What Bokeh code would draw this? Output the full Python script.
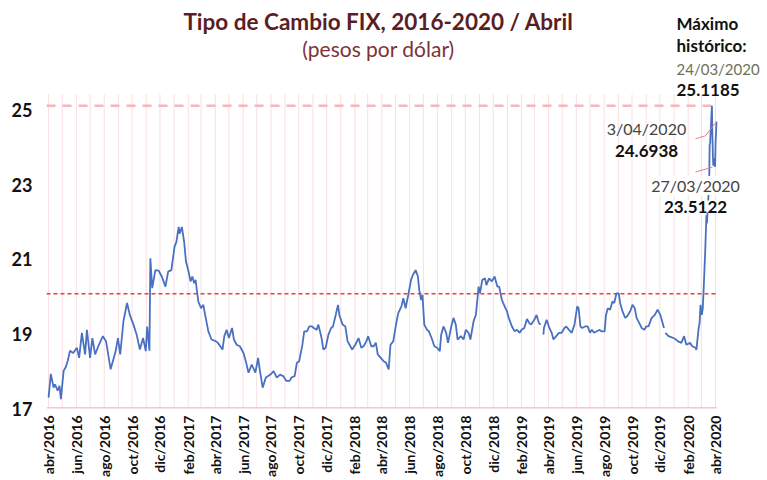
import math
import numpy as np
import pandas as pd
from bokeh.plotting import figure
from bokeh.models import Label, FixedTicker, ColumnDataSource
from bokeh.embed import file_html
from bokeh.resources import INLINE

NaN = float("nan")

# ---- data (FIX, pesos por dólar) ----
dates = [
    "2016-04-01", "2016-04-06", "2016-04-12", "2016-04-15", "2016-04-21", "2016-04-25", "2016-04-28",
    "2016-05-04", "2016-05-09", "2016-05-13", "2016-05-18", "2016-05-25",
    "2016-06-02", "2016-06-07", "2016-06-13", "2016-06-20", "2016-06-24",
    "2016-07-01", "2016-07-06", "2016-07-12", "2016-07-19", "2016-07-29",
    "2016-08-05", "2016-08-15", "2016-08-22", "2016-08-26", "2016-08-31",
    "2016-09-05", "2016-09-12", "2016-09-20", "2016-09-26",
    "2016-10-04", "2016-10-11", "2016-10-18", "2016-10-25", "2016-10-31",
    "2016-11-03", "2016-11-08", "2016-11-10", "2016-11-14", "2016-11-21", "2016-11-28",
    "2016-12-05", "2016-12-09", "2016-12-13", "2016-12-19", "2016-12-26",
    "2017-01-02", "2017-01-06", "2017-01-11", "2017-01-13", "2017-01-18", "2017-01-23", "2017-01-27",
    "2017-02-01", "2017-02-06", "2017-02-10", "2017-02-14", "2017-02-17", "2017-02-23",
    "2017-03-01", "2017-03-06", "2017-03-10", "2017-03-17", "2017-03-24",
    "2017-04-03", "2017-04-07", "2017-04-17", "2017-04-21", "2017-04-26",
    "2017-05-01", "2017-05-08", "2017-05-12", "2017-05-18", "2017-05-25",
    "2017-06-02", "2017-06-07", "2017-06-13", "2017-06-20", "2017-06-28",
    "2017-07-04", "2017-07-07", "2017-07-14", "2017-07-21", "2017-07-31",
    "2017-08-07", "2017-08-14", "2017-08-21", "2017-08-28",
    "2017-09-04", "2017-09-11", "2017-09-15", "2017-09-22", "2017-09-27",
    "2017-10-02", "2017-10-09", "2017-10-13", "2017-10-19", "2017-10-24", "2017-10-30",
    "2017-11-03", "2017-11-09", "2017-11-13", "2017-11-20", "2017-11-24", "2017-11-29",
    "2017-12-05", "2017-12-11", "2017-12-15", "2017-12-21", "2017-12-26", "2017-12-29",
    "2018-01-05", "2018-01-11", "2018-01-16", "2018-01-22", "2018-01-26",
    "2018-02-02", "2018-02-09", "2018-02-15", "2018-02-20", "2018-02-26",
    "2018-03-02", "2018-03-09", "2018-03-14", "2018-03-19", "2018-03-23",
    "2018-04-02", "2018-04-05", "2018-04-10", "2018-04-16", "2018-04-20", "2018-04-26",
    "2018-05-02", "2018-05-07", "2018-05-14", "2018-05-18", "2018-05-23", "2018-05-29",
    "2018-06-04", "2018-06-08", "2018-06-14", "2018-06-19", "2018-06-22", "2018-06-26", "2018-06-29",
    "2018-07-03", "2018-07-09", "2018-07-13", "2018-07-19", "2018-07-25", "2018-07-31",
    "2018-08-06", "2018-08-09", "2018-08-14", "2018-08-20", "2018-08-24", "2018-08-31",
    "2018-09-05", "2018-09-10", "2018-09-14", "2018-09-21", "2018-09-27",
    "2018-10-02", "2018-10-08", "2018-10-12", "2018-10-19", "2018-10-24", "2018-10-30",
    "2018-11-02", "2018-11-07", "2018-11-13", "2018-11-16", "2018-11-22", "2018-11-28",
    "2018-12-04", "2018-12-10", "2018-12-14", "2018-12-20", "2018-12-26", "2018-12-31",
    "2019-01-04", "2019-01-11", "2019-01-17", "2019-01-22", "2019-01-28",
    "2019-02-01", "2019-02-07", "2019-02-13", "2019-02-18", "2019-02-22",
    "2019-03-01", "2019-03-06", "2019-03-11", "2019-03-15", "2019-03-18", "2019-03-21", "2019-03-22", "2019-03-28",
    "2019-04-03", "2019-04-08", "2019-04-12", "2019-04-18", "2019-04-24", "2019-04-30",
    "2019-05-06", "2019-05-10", "2019-05-16", "2019-05-22", "2019-05-28",
    "2019-06-03", "2019-06-06", "2019-06-10", "2019-06-14", "2019-06-20", "2019-06-26",
    "2019-07-01", "2019-07-05", "2019-07-10", "2019-07-16", "2019-07-22", "2019-07-26",
    "2019-08-02", "2019-08-05", "2019-08-09", "2019-08-14", "2019-08-19", "2019-08-23", "2019-08-28",
    "2019-09-02", "2019-09-05", "2019-09-10", "2019-09-16", "2019-09-20", "2019-09-27",
    "2019-10-02", "2019-10-07", "2019-10-11", "2019-10-17", "2019-10-22", "2019-10-28",
    "2019-11-01", "2019-11-06", "2019-11-13", "2019-11-20", "2019-11-26",
    "2019-12-02", "2019-12-06", "2019-12-10", "2019-12-12", "2019-12-13", "2019-12-20", "2019-12-27",
    "2020-01-03", "2020-01-10", "2020-01-17", "2020-01-23", "2020-01-28",
    "2020-02-05", "2020-02-10", "2020-02-17", "2020-02-19", "2020-02-24", "2020-02-26", "2020-02-28",
    "2020-03-02", "2020-03-04", "2020-03-06", "2020-03-09", "2020-03-12", "2020-03-13",
    "2020-03-18", "2020-03-19", "2020-03-20", "2020-03-23", "2020-03-24", "2020-03-25",
    "2020-03-26", "2020-03-27", "2020-03-30", "2020-03-31",
    "2020-04-01", "2020-04-02", "2020-04-03",
]
values = [
    17.29, 17.93, 17.56, 17.65, 17.48, 17.61, 17.25,
    18.01, 18.12, 18.28, 18.55, 18.49,
    18.63, 18.36, 19.03, 18.45, 19.11,
    18.36, 18.89, 18.45, 18.67, 18.94,
    18.80, 18.05, 18.36, 18.54, 18.89,
    18.45, 19.34, 19.83, 19.51,
    19.25, 18.98, 18.58, 18.89, 18.54,
    19.20, 18.55, 21.03, 20.23, 20.71, 20.70,
    20.54, 20.41, 20.27, 20.67, 20.71,
    21.34, 21.47, 21.87, 21.69, 21.87, 21.47, 20.94,
    20.71, 20.41, 20.54, 20.36, 20.45, 19.87,
    19.69, 19.78, 19.51, 19.07, 18.85,
    18.80, 18.76, 18.58, 18.94, 19.11,
    18.89, 19.16, 18.85, 18.71, 18.67,
    18.49, 18.27, 17.96, 18.18, 17.96,
    18.36, 18.09, 17.56, 17.83, 17.91,
    18.00, 17.83, 17.91, 17.87,
    17.74, 17.74, 17.83, 17.87, 18.23,
    18.27, 18.71, 19.07, 19.07, 19.20, 19.20,
    19.16, 19.11, 19.25, 18.89, 18.58, 18.63,
    18.98, 19.16, 19.20, 19.51, 19.78, 19.51,
    19.25, 19.20, 18.80, 18.67, 18.58,
    18.71, 18.89, 18.63, 18.67, 18.80,
    18.94, 18.67, 18.67, 18.76, 18.45,
    18.31, 18.27, 18.23, 18.05, 18.71, 18.80,
    19.25, 19.56, 19.74, 19.96, 19.69, 20.05,
    20.45, 20.58, 20.71, 20.54, 20.18, 19.91, 20.05,
    19.25, 19.11, 19.07, 18.89, 18.67, 18.63,
    18.54, 18.98, 19.20, 19.03, 18.76, 19.20,
    19.43, 19.25, 18.85, 18.94, 18.85,
    19.11, 19.03, 18.85, 19.34, 19.51, 20.27,
    20.09, 20.45, 20.49, 20.31, 20.49, 20.41,
    20.54, 20.27, 20.27, 19.91, 19.74, 19.61,
    19.43, 19.20, 19.07, 19.11, 19.03,
    19.11, 19.16, 19.40, 19.29, 19.25,
    19.38, 19.51, 19.29, 19.25, NaN, 18.98, 19.16, 19.38,
    19.16, 19.03, 18.85, 18.94, 19.03, 19.03,
    19.16, 19.20, 19.11, 19.03, 19.25,
    19.74, 19.69, 19.20, 19.16, 19.20, 19.20,
    19.03, 19.11, 19.03, 19.07, 19.11, 19.07,
    19.07, 19.51, 19.69, 19.65, 19.87, 19.83, 20.09,
    20.09, 19.83, 19.61, 19.43, 19.47, 19.61,
    19.78, 19.69, 19.43, 19.29, 19.16, 19.11,
    19.20, 19.20, 19.43, 19.51, 19.65,
    19.51, 19.34, 19.16, NaN, 19.03, 18.94, 18.91,
    18.87, 18.80, 18.76, 18.94, 18.71,
    18.76, 18.67, 18.63, 18.57, 19.16, 19.29, 19.78,
    19.51, 19.69, 20.23, 21.11, 22.18, 21.96,
    23.05, 24.07, 24.11, 24.88, 25.1185, 24.36,
    23.84, 23.5122, 23.71, 23.48,
    24.14, 24.39, 24.6938,
]

average_value = 20.08          # promedio del periodo (línea roja punteada)
max_value = 25.1185            # máximo histórico
max_date = "24/03/2020"

annot_dates = ["2020-04-03", "2020-03-27"]
annot_values = [24.6938, 23.5122]
annot_texts = ["3/04/2020", "27/03/2020"]

tick_labels = ["abr/2016", "jun/2016", "ago/2016", "oct/2016", "dic/2016",
               "feb/2017", "abr/2017", "jun/2017", "ago/2017", "oct/2017", "dic/2017",
               "feb/2018", "abr/2018", "jun/2018", "ago/2018", "oct/2018", "dic/2018",
               "feb/2019", "abr/2019", "jun/2019", "ago/2019", "oct/2019", "dic/2019",
               "feb/2020", "abr/2020"]
y_ticks = [17, 19, 21, 23, 25]

FONT = "Lato"

# ---- layout constants ----
X_START = pd.Timestamp("2016-03-27 12:00")
X_END = pd.Timestamp("2020-07-15")
AXIS_END = pd.Timestamp("2020-04-04")
LINE_END = pd.Timestamp("2020-04-07")
Y_MIN, Y_MAX = 17.0, 27.943
GRID_TOP = 25.43

x = pd.to_datetime(dates)
src = ColumnDataSource(dict(x=x, y=values))

p = figure(width=763, height=479, x_axis_type="datetime",
           x_range=(X_START, X_END), y_range=(Y_MIN, Y_MAX),
           output_backend="svg", toolbar_location=None,
           min_border_left=46, min_border_right=0, min_border_top=0, min_border_bottom=70)
p.outline_line_color = None
p.background_fill_color = "white"

def to_ms(ts):
    return pd.Timestamp(ts).value / 1e6

tick_dates = pd.date_range("2016-04-01", periods=len(tick_labels), freq="2MS")
month_dates = pd.date_range("2016-04-01", "2020-04-01", freq="MS")
tick_ms = [to_ms(d) for d in tick_dates]

p.xaxis.ticker = FixedTicker(ticks=tick_ms)
p.xaxis.major_label_overrides = {t: l for t, l in zip(tick_ms, tick_labels)}
p.xaxis.major_label_orientation = math.pi / 2
p.xaxis.major_label_text_font = FONT
p.xaxis.major_label_text_font_style = "bold"
p.xaxis.major_label_text_font_size = "14px"
p.xaxis.major_label_text_color = "#111111"
p.xaxis.major_label_standoff = 7
p.xaxis.major_tick_out = 0
p.xaxis.major_tick_in = 0
p.xaxis.minor_tick_out = 0
p.xaxis.axis_line_color = None
p.xaxis.major_tick_line_color = None
p.xaxis.minor_tick_line_color = None

p.xgrid.grid_line_color = None
p.ygrid.grid_line_color = None

p.yaxis.ticker = FixedTicker(ticks=y_ticks)
p.yaxis.axis_line_color = None
p.yaxis.major_tick_line_color = None
p.yaxis.minor_tick_line_color = None
p.yaxis.major_tick_out = 0
p.yaxis.major_tick_in = 0
p.yaxis.major_label_text_font = FONT
p.yaxis.major_label_text_font_style = "bold"
p.yaxis.major_label_text_font_size = "18px"
p.yaxis.major_label_text_color = "#111111"
p.yaxis.major_label_standoff = 14

# monthly vertical grid lines (only up to the top of the value area)
p.segment(x0=month_dates, y0=[Y_MIN] * len(month_dates), x1=month_dates,
          y1=[GRID_TOP] * len(month_dates), line_color="#f8dfe2", line_width=1)
# bottom axis line
p.line([X_START, AXIS_END], [Y_MIN, Y_MIN], line_color="#f3c9cb", line_width=3)

# reference lines
p.line([X_START, LINE_END], [max_value, max_value], line_color="#f4b8b8",
       line_width=2.5, line_dash="9 7")
p.line([X_START, LINE_END], [average_value, average_value], line_color="#ee3b3b",
       line_width=1.5, line_dash="4 3")

# series
p.line("x", "y", source=src, line_color="#4a70c2", line_width=1.8)

# leader lines from labels to annotated points
ad = pd.to_datetime(annot_dates)
lead1_x = [ad[0] - pd.Timedelta(days=46), ad[0] - pd.Timedelta(days=24), ad[0]]
lead1_y = [annot_values[0] - 0.46, annot_values[0] - 0.38, annot_values[0]]
lead2_x = [ad[1] - pd.Timedelta(days=39), ad[1] - pd.Timedelta(days=2)]
lead2_y = [annot_values[1] - 0.17, annot_values[1] - 0.04]
p.line(lead1_x, lead1_y, line_color="#e77f82", line_width=1)
p.line(lead2_x, lead2_y, line_color="#e77f82", line_width=1)

def lab(text, sx, sy, size, bold=False, color="#111111", align="left", bg=None):
    p.add_layout(Label(x=sx, y=sy, x_units="screen", y_units="screen", text=text,
                       text_font=FONT, text_font_size=f"{size}px",
                       text_font_style="bold" if bold else "normal",
                       text_color=color, text_align=align, text_baseline="middle",
                       background_fill_color=bg))

# titles (screen units relative to plot frame bottom-left)
lab("Tipo de Cambio FIX, 2016-2020 / Abril", 332, 387, 22.5, True, "#5a1e24", "center")
lab("(pesos por dólar)", 332, 360, 21, False, "#7d3337", "center")

# maximum annotation
lab("Máximo", 630, 385, 17, True, "#111111")
lab("histórico:", 630, 363, 17, True, "#111111")
lab(max_date, 630, 340, 15, False, "#6f6f55")
lab(f"{max_value:.4f}", 630, 319, 17, True, "#111111")

# other annotations
lab(annot_texts[0], 600, 280, 16, False, "#444444", "center")
lab(f"{annot_values[0]:.4f}", 600, 258, 17, True, "#111111", "center")
lab(annot_texts[1], 649, 223, 16, False, "#444444", "center", "white")
lab(f"{annot_values[1]:.4f}", 649, 202, 17, True, "#111111", "center", "white")

open("out.html", "w").write(file_html(p, INLINE))
